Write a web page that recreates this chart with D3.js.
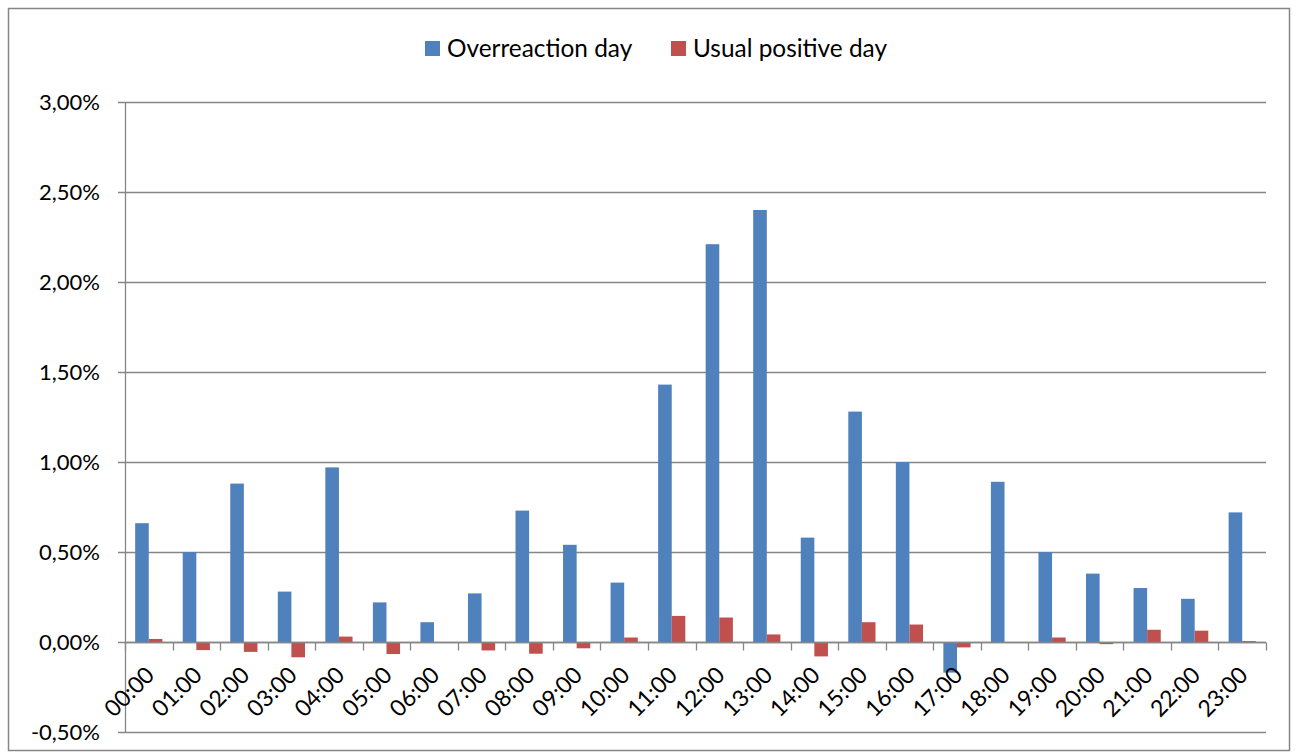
<!DOCTYPE html>
<html><head><meta charset="utf-8">
<script src="https://cdn.jsdelivr.net/npm/d3@7/dist/d3.min.js"></script>
<style>body{margin:0;background:#fff}svg{display:block}text{font-family:Lato,"Open Sans",sans-serif;fill:#000}</style>
</head><body><svg id="c" width="1302" height="754"></svg>
<script>
const categories = ["00:00","01:00","02:00","03:00","04:00","05:00","06:00","07:00","08:00","09:00","10:00","11:00","12:00","13:00","14:00","15:00","16:00","17:00","18:00","19:00","20:00","21:00","22:00","23:00"];
const seriesNames = ["Overreaction day","Usual positive day"];
const overreaction = [0.66,0.50,0.88,0.28,0.97,0.22,0.11,0.27,0.73,0.54,0.33,1.43,2.21,2.40,0.58,1.28,1.00,-0.17,0.89,0.50,0.38,0.30,0.24,0.72];
const usual = [0.017,-0.045,-0.055,-0.085,0.03,-0.067,-0.002,-0.047,-0.065,-0.035,0.025,0.145,0.136,0.042,-0.08,0.11,0.097,-0.03,-0.003,0.025,-0.012,0.068,0.063,0.005];
const yTicks = [-0.5,0,0.5,1.0,1.5,2.0,2.5,3.0];
const colors = ["#4F81BD","#C0504D"];

const svg = d3.select("#c");
svg.append("rect").attr("x",8.5).attr("y",8.5).attr("width",1281).attr("height",742).attr("fill","#fff").attr("stroke","#868686").attr("stroke-width",1.5);

const L=125,R=1266,T=102,B=732;
const x = d3.scaleBand().domain(categories).range([L,R]);
const y = d3.scaleLinear().domain([-0.5,3.0]).range([B,T]);
const fmt = v => v.toFixed(2).replace(".",",")+"%";

// gridlines
svg.append("g").selectAll("line").data(yTicks).join("line")
  .attr("x1",L-7).attr("x2",R).attr("y1",d=>Math.round(y(d))+0.5).attr("y2",d=>Math.round(y(d))+0.5)
  .attr("stroke","#868686").attr("stroke-width",1.3);
svg.append("g").selectAll("text").data(yTicks).join("text")
  .attr("x",100).attr("y",d=>y(d)).attr("dy","0.35em").attr("text-anchor","end")
  .style("font-size","22px").text(fmt);

// y axis line
svg.append("line").attr("x1",L+0.5).attr("x2",L+0.5).attr("y1",T).attr("y2",B).attr("stroke","#868686").attr("stroke-width",1.3);

// bars
const bw = 13.6;
const data = [overreaction, usual];
data.forEach((arr,si)=>{
  svg.append("g").selectAll("rect").data(arr).join("rect")
    .attr("x",(d,i)=>x(categories[i])+x.bandwidth()/2 - bw + si*bw)
    .attr("width",bw)
    .attr("y",d=>Math.min(y(d),y(0)))
    .attr("height",d=>Math.abs(y(d)-y(0)))
    .attr("fill",colors[si]);
});

// category axis at zero
const y0 = Math.round(y(0))+0.5;
svg.append("line").attr("x1",L).attr("x2",R).attr("y1",y0).attr("y2",y0).attr("stroke","#868686").attr("stroke-width",1.3);
const bounds = categories.map(c=>x(c)).concat([R]);
svg.append("g").selectAll("line").data(bounds).join("line")
  .attr("x1",d=>Math.round(d)+0.5).attr("x2",d=>Math.round(d)+0.5).attr("y1",y0).attr("y2",y0+8)
  .attr("stroke","#868686").attr("stroke-width",1.3);
svg.append("g").selectAll("text").data(categories).join("text")
  .attr("transform",c=>`translate(${x(c)+x.bandwidth()/2+7},${y0+34}) rotate(-45)`)
  .attr("text-anchor","end").style("font-size","23px").text(c=>c);

// legend
const leg = [{x:425,tx:447},{x:671,tx:693}];
seriesNames.forEach((n,i)=>{
  svg.append("rect").attr("x",leg[i].x).attr("y",41).attr("width",15).attr("height",15).attr("fill",colors[i]);
  svg.append("text").attr("x",leg[i].tx).attr("y",48).attr("dy","0.35em").style("font-size","24.4px").text(n);
});
</script></body></html>
